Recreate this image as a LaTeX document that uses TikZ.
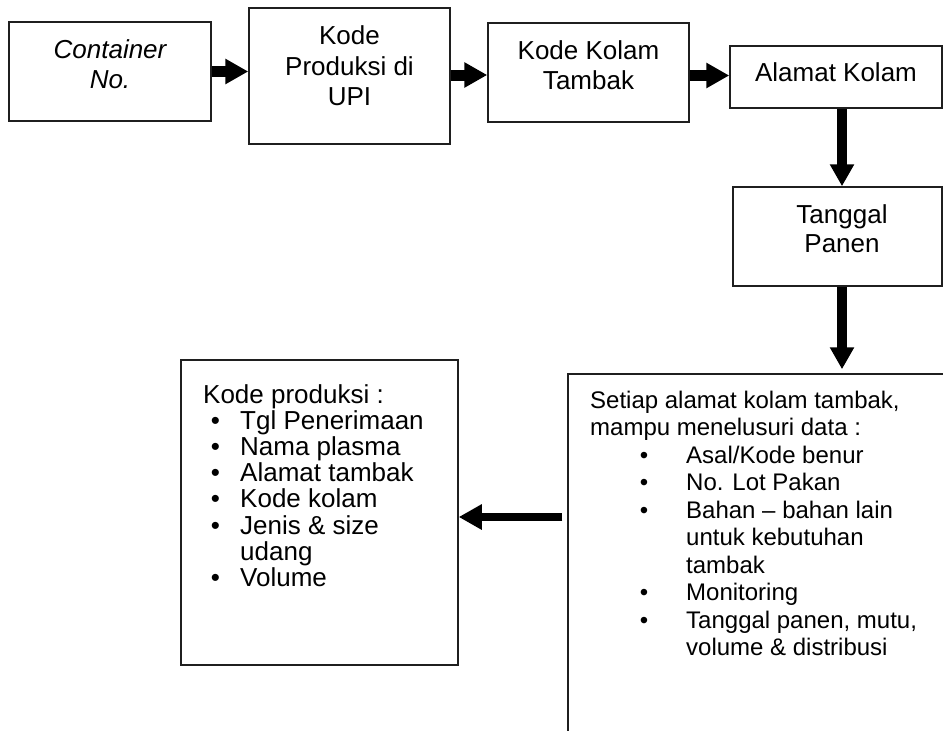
\documentclass[tikz,border=0pt]{standalone}
\usepackage{fontspec}
\setmainfont{Liberation Sans}
\usetikzlibrary{arrows.meta,calc}
\begin{document}
\begin{tikzpicture}[x=1pt,y=-1pt,
  box/.style={draw=black!88, line width=1.5pt, rectangle, inner sep=0pt},
  toptxt/.style={anchor=base, inner sep=0pt, font=\fontsize{26}{30}\selectfont},
  bigtxt/.style={anchor=base west, inner sep=0pt, font=\fontsize{26}{30}\selectfont},
  bigdot/.style={anchor=base, inner sep=0pt, font=\fontsize{26}{30}\selectfont},
  smalltxt/.style={anchor=base west, inner sep=0pt, font=\fontsize{24}{28}\selectfont},
  smalldot/.style={anchor=base, inner sep=0pt, font=\fontsize{24}{28}\selectfont},
  arrH/.style={draw=black, line width=11pt, -{Triangle[length=23pt,width=24pt]}},
  arrV/.style={draw=black, line width=10pt, -{Triangle[length=22pt,width=23pt]}},
  arrL/.style={draw=black, line width=8pt, -{Triangle[length=23pt,width=24pt]}}]

\useasboundingbox (0,0) rectangle (943,731);
\clip (0,0) rectangle (943,731);
\fill[white] (0,0) rectangle (943,731);

% boxes of the chain
\node[box, minimum width=202pt, minimum height=99pt]  (cont) at (110,71.5) {};
\node[box, minimum width=201pt, minimum height=136pt] (kp)   at (349.5,76) {};
\node[box, minimum width=201pt, minimum height=99pt]  (kk)   at (588.5,72.5) {};
\node[box, minimum width=212pt, minimum height=62pt]  (ak)   at (836,77) {};
\node[box, minimum width=209pt, minimum height=99pt]  (tp)   at (837.5,236.5) {};
\node[box, minimum width=412pt, minimum height=396pt] (st)   at (774,572) {};
\node[box, minimum width=277pt, minimum height=305pt] (kpr)  at (319.5,512.5) {};

% texts of the chain
\node[toptxt] (t-cont1) at (110,58)   {\itshape Container};
\node[toptxt] (t-cont2) at (110,88.5) {\itshape No.};
\node[toptxt] (t-kp1) at (349.5,44)  {Kode};
\node[toptxt] (t-kp2) at (349.5,75)  {Produksi di};
\node[toptxt] (t-kp3) at (349.5,105) {UPI};
\node[toptxt] (t-kk1) at (588.5,59)   {Kode Kolam};
\node[toptxt] (t-kk2) at (588.5,89.5) {Tambak};
\node[toptxt] (t-ak)  at (836,81.6)   {Alamat Kolam};
\node[toptxt] (t-tp1) at (842,223)    {Tanggal};
\node[toptxt] (t-tp2) at (842,252)    {Panen};

% traced data
\node[smalltxt] (s0) at (590,408)   {Setiap alamat kolam tambak,};
\node[smalltxt] (s1) at (590,435.5) {mampu menelusuri data :};
\node[smalldot] (d1) at (644,463) {•};
\node[smalltxt] (s2) at (686,463) {Asal/Kode benur};
\node[smalldot] (d2) at (644,490.5) {•};
\node[smalltxt] (s3) at (686,490.5) {No. Lot Pakan};
\node[smalldot] (d3) at (644,518) {•};
\node[smalltxt] (s4) at (686,518) {Bahan – bahan lain};
\node[smalltxt] (s5) at (686,545.5) {untuk kebutuhan};
\node[smalltxt] (s6) at (686,573) {tambak};
\node[smalldot] (d4) at (644,600.5) {•};
\node[smalltxt] (s7) at (686,600.5) {Monitoring};
\node[smalldot] (d5) at (644,628) {•};
\node[smalltxt] (s8) at (686,628) {Tanggal panen, mutu,};
\node[smalltxt] (s9) at (686,655.5) {volume \& distribusi};

% production code contents
\node[bigtxt] (k0) at (203,403) {Kode produksi :};
\node[bigdot] (e1) at (215.5,429.2) {•};
\node[bigtxt] (k1) at (240,429.2) {Tgl Penerimaan};
\node[bigdot] (e2) at (215.5,455.4) {•};
\node[bigtxt] (k2) at (240,455.4) {Nama plasma};
\node[bigdot] (e3) at (215.5,481.6) {•};
\node[bigtxt] (k3) at (240,481.6) {Alamat tambak};
\node[bigdot] (e4) at (215.5,507.8) {•};
\node[bigtxt] (k4) at (240,507.8) {Kode kolam};
\node[bigdot] (e5) at (215.5,534) {•};
\node[bigtxt] (k5) at (240,534) {Jenis \& size};
\node[bigtxt] (k6) at (240,560.2) {udang};
\node[bigdot] (e6) at (215.5,586.4) {•};
\node[bigtxt] (k7) at (240,586.4) {Volume};

% connectors
\draw[arrH] (cont.east) -- (kp.west |- cont.east);
\draw[arrH] ([yshift=-2.5pt]kk.west -| kp.east) -- ([yshift=-2.5pt]kk.west);
\draw[arrH] ([yshift=1.5pt]ak.west -| kk.east) -- ([yshift=1.5pt]ak.west);
\draw[arrV] ([xshift=6pt]ak.south) -- ([xshift=4.5pt]tp.north);
\draw[arrV] ([xshift=4.5pt]tp.south) -- ([xshift=4.5pt,yshift=4pt]tp.south |- st.north);
\draw[arrL] ([xshift=-5pt,yshift=-4.5pt]st.west |- kpr.east) -- ([yshift=-4.5pt]kpr.east);
\end{tikzpicture}
\end{document}
